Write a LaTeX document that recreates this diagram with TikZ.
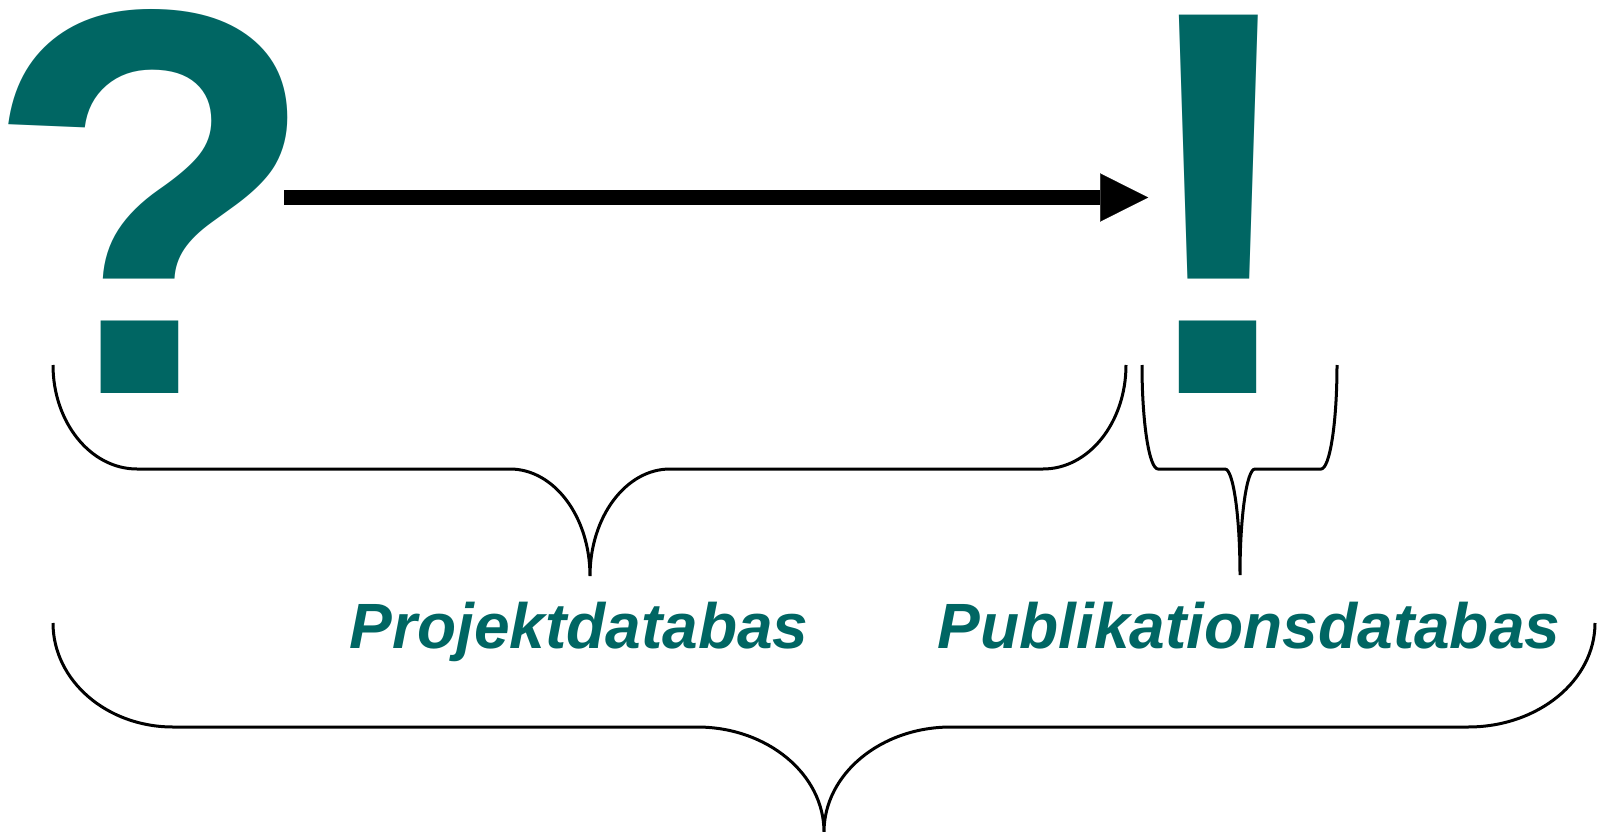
\documentclass[tikz,border=0pt]{standalone}
\usepackage{fontspec}
\setmainfont{Liberation Sans}
\usetikzlibrary{arrows.meta}
\definecolor{dbteal}{RGB}{0,102,99}

\begin{document}
\begin{tikzpicture}[x=1pt, y=1pt,
  sign/.style={text=dbteal, inner sep=0, font=\bfseries\fontsize{550}{550}\selectfont},
  dblabel/.style={text=dbteal, inner sep=0, anchor=base, font=\bfseries\itshape\fontsize{64}{64}\selectfont},
  brace/.style={line width=3pt},
  bigarrow/.style={line width=15pt, -{Triangle[length=48pt, width=48pt, line width=0.1pt]}}]
\useasboundingbox (0,0) rectangle (1607,-832);
\node[sign, anchor=base west] (question) at (-17,-393) {?};
\node[sign, anchor=base] (answer) at (1219,-393) {!};
\coordinate (mid) at (0,-197.5);
\draw[bigarrow] ([xshift=-35pt]question.east |- mid) -- ([xshift=21pt]answer.west |- mid);
% braces
\draw[brace] (53,-365) arc[start angle=180, end angle=270, x radius=84, y radius=104] -- (510,-469)
  arc[start angle=90, end angle=0, x radius=80, y radius=107] arc[start angle=180, end angle=90, x radius=80, y radius=107]
  -- (1043,-469) arc[start angle=270, end angle=360, x radius=83, y radius=104];
\draw[brace] (1142,-365) arc[start angle=180, end angle=270, x radius=16, y radius=104] -- (1225,-469)
  arc[start angle=90, end angle=0, x radius=15, y radius=106] arc[start angle=180, end angle=90, x radius=15, y radius=106]
  -- (1321,-469) arc[start angle=270, end angle=360, x radius=16, y radius=104];
\draw[brace] (53,-623) arc[start angle=180, end angle=270, x radius=120, y radius=104] -- (697,-727)
  arc[start angle=90, end angle=0, x radius=127, y radius=105] arc[start angle=180, end angle=90, x radius=127, y radius=105]
  -- (1468,-727) arc[start angle=270, end angle=360, x radius=127, y radius=104];
\node[dblabel] (projdb) at (579,-648) {Projektdatabas};
\node[dblabel] (pubdb) at (1249,-648) {Publikationsdatabas};
\end{tikzpicture}
\end{document}
